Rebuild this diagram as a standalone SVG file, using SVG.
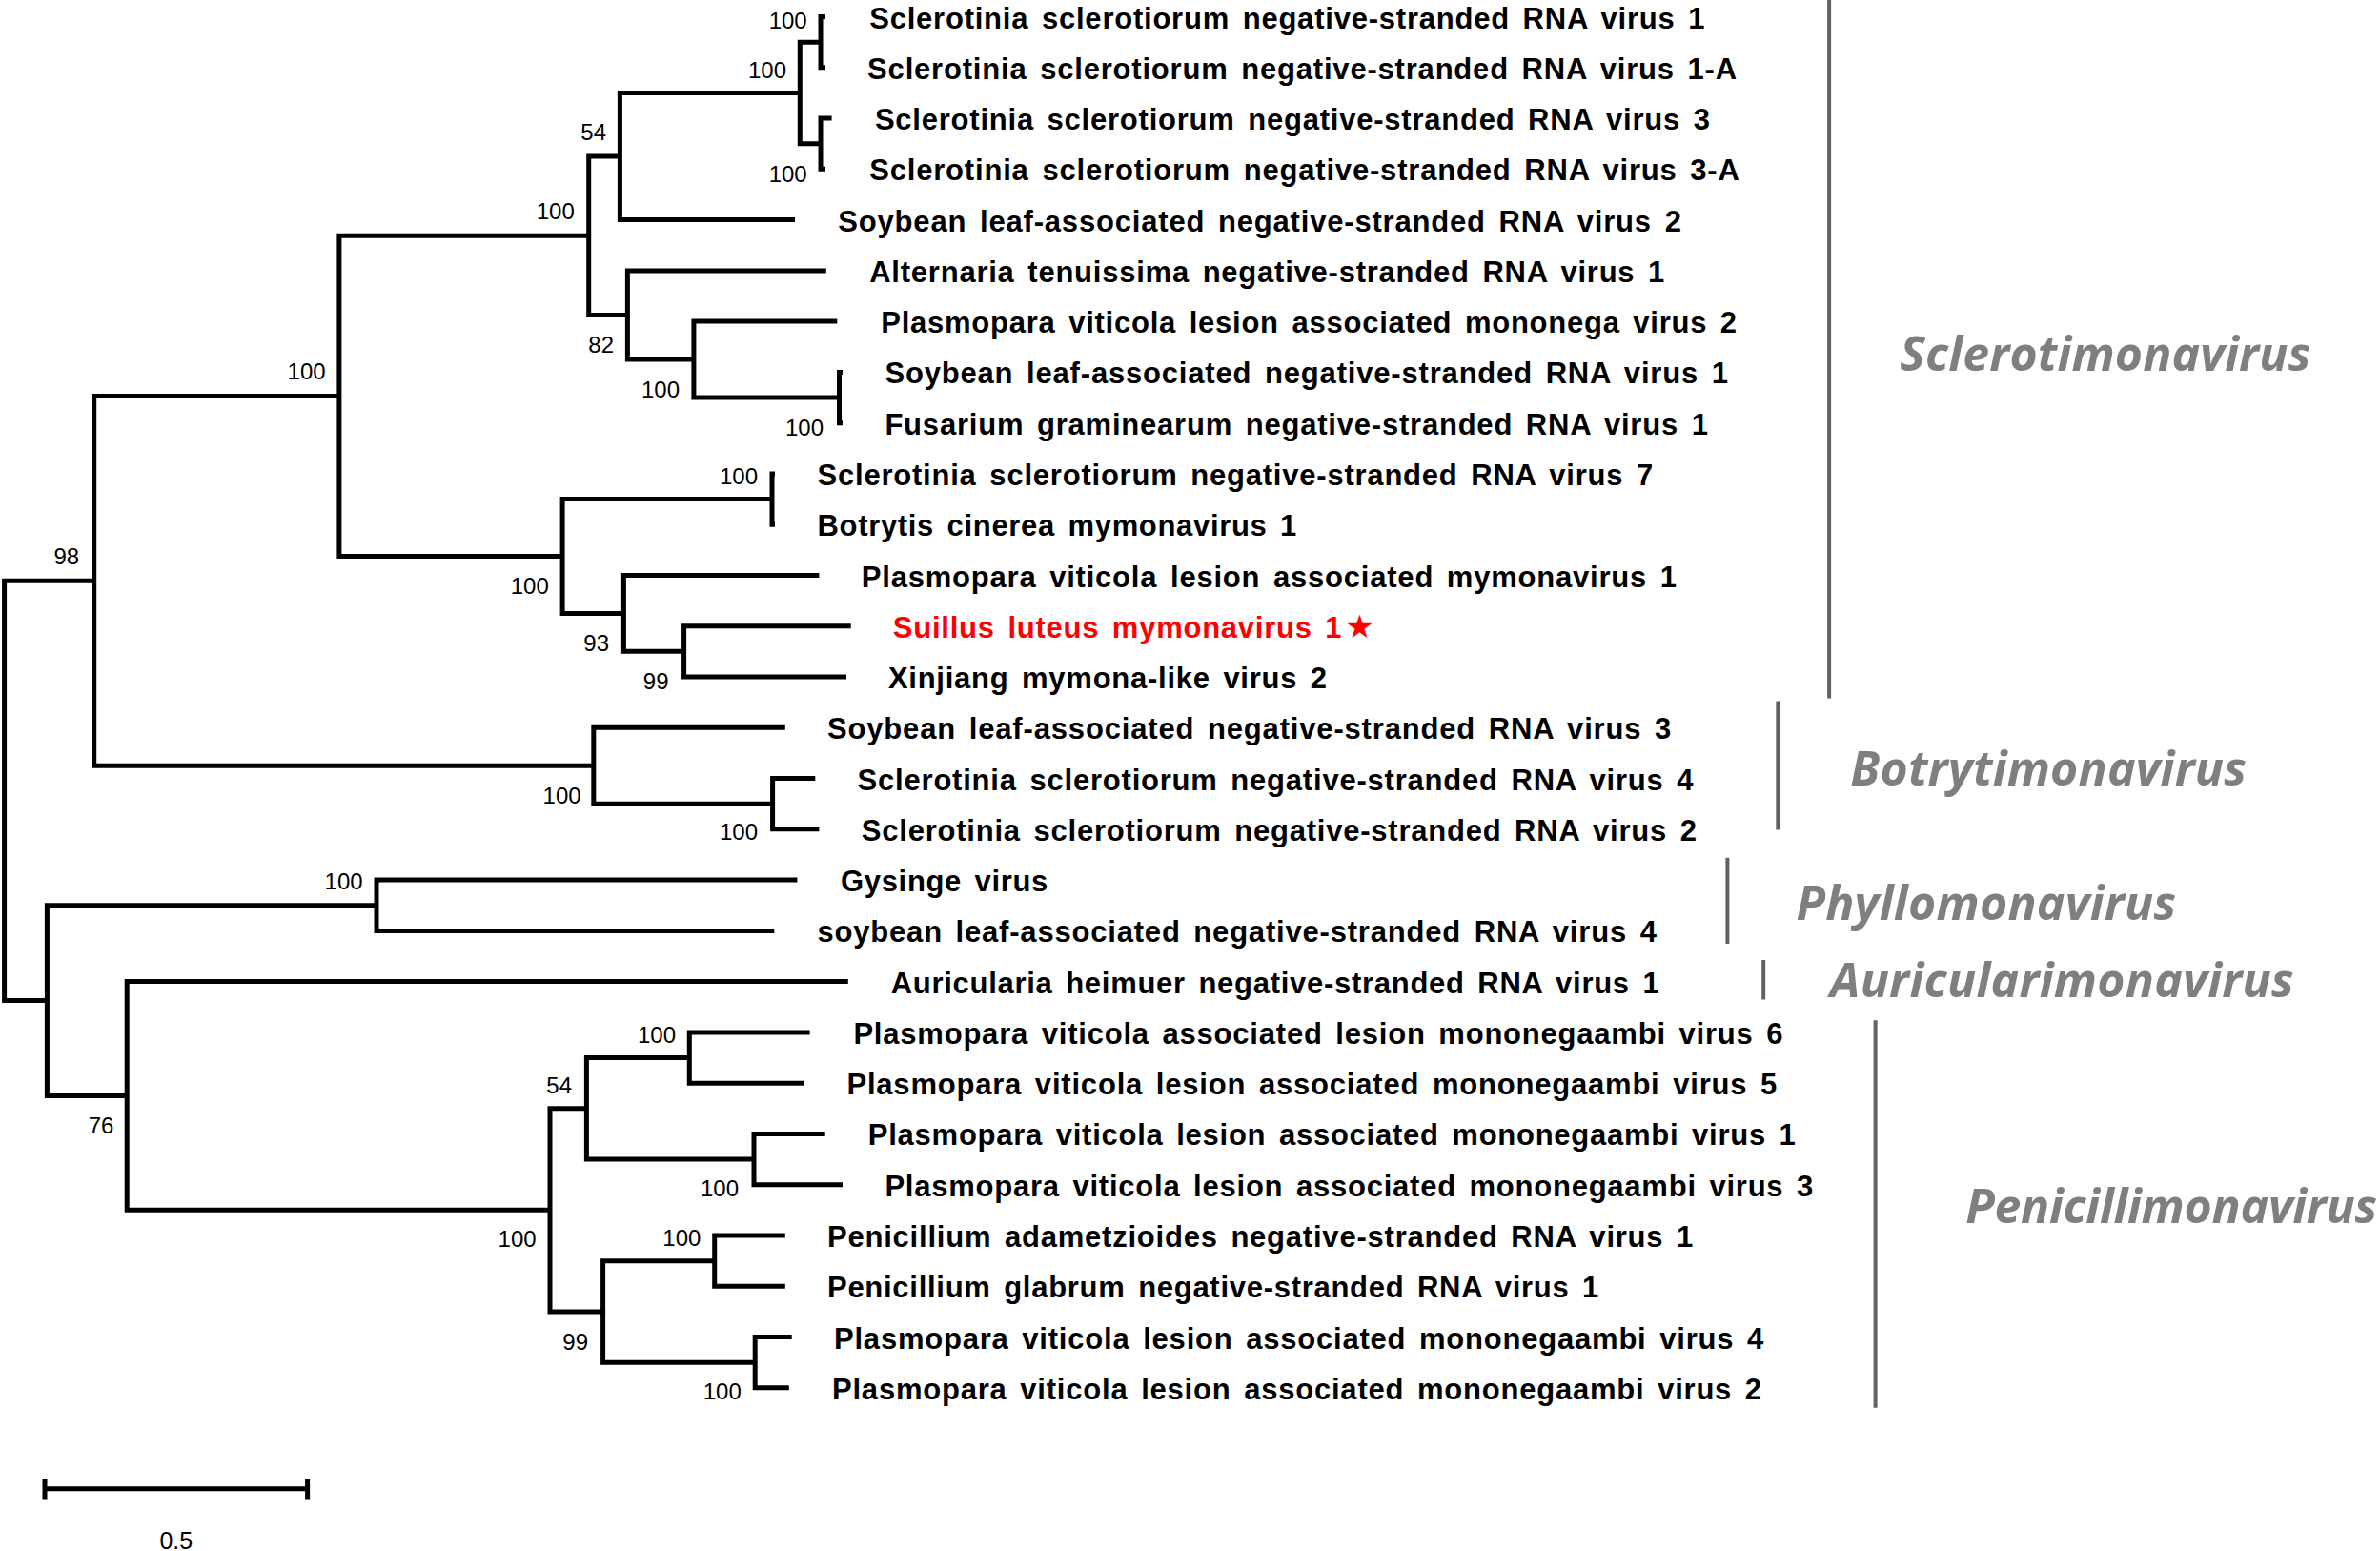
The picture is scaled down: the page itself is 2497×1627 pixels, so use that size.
<svg xmlns="http://www.w3.org/2000/svg" width="2497" height="1627" viewBox="0 0 2497 1627">
<style>
.br{fill:none;stroke:#000;stroke-width:5;stroke-linejoin:miter;stroke-linecap:butt}
.tx{font-family:"Liberation Sans",Arial,sans-serif;font-weight:bold;font-size:31px;letter-spacing:0.7px;word-spacing:4.3px;fill:#000}
.red{fill:#ff0000}
.bs{font-family:"Liberation Sans",Arial,sans-serif;font-size:24px;fill:#000;text-anchor:end}
.gn{font-family:"Open Sans","DejaVu Sans",sans-serif;font-weight:bold;font-style:italic;font-size:50px;fill:#7f7f7f}
.bar{stroke:#616161;stroke-width:4;fill:none}
</style>
<rect width="2497" height="1627" fill="#fff"/>
<g id="branches">
<path class="br" d="M866 17.5H861V70.8H866"/>
<path class="br" d="M872.6 124H861V177.3H866"/>
<path class="br" d="M861 44.15H839.3V150.65H861"/>
<path class="br" d="M839.3 97.4H650.4V230.6H834"/>
<path class="br" d="M884 390.4H880.5V443.7H884"/>
<path class="br" d="M878.3 337.1H727.9V417.05H880.5"/>
<path class="br" d="M866.8 283.9H658.4V377.1H727.9"/>
<path class="br" d="M650.4 164H617.7V330.5H658.4"/>
<path class="br" d="M813 496.9H810V550.2H813"/>
<path class="br" d="M892.7 656.7H717.6V710H888"/>
<path class="br" d="M859.4 603.5H654.4V683.35H717.6"/>
<path class="br" d="M810 523.55H590.1V643.4H654.4"/>
<path class="br" d="M617.7 247.25H355.9V583.5H590.1"/>
<path class="br" d="M855.3 816.6H810.6V869.8H859.4"/>
<path class="br" d="M823.8 763.3H622.8V843.2H810.6"/>
<path class="br" d="M355.9 415.4H98.7V803.25H622.8"/>
<path class="br" d="M836.4 923.1H395V976.4H812.3"/>
<path class="br" d="M849.6 1082.9H723.3V1136.2H843.9"/>
<path class="br" d="M865.7 1189.4H791V1242.7H884"/>
<path class="br" d="M723.3 1109.55H615.4V1216.05H791"/>
<path class="br" d="M823.8 1296H749.7V1349.3H823.8"/>
<path class="br" d="M830.7 1402.5H792.2V1455.8H827.8"/>
<path class="br" d="M749.7 1322.65H632.6V1429.15H792.2"/>
<path class="br" d="M615.4 1162.8H577V1375.9H632.6"/>
<path class="br" d="M889.8 1029.6H133.2V1269.35H577"/>
<path class="br" d="M395 949.75H49.4V1149.5H133.2"/>
<path class="br" d="M98.7 609.3H4.6V1049.6H49.4"/>
</g>
<g id="bootstrap">
<text class="bs" x="846.7" y="29.7">100</text>
<text class="bs" x="825" y="82.4">100</text>
<text class="bs" x="846.7" y="191.1">100</text>
<text class="bs" x="636" y="147.2">54</text>
<text class="bs" x="602.8" y="230.4">100</text>
<text class="bs" x="644" y="370">82</text>
<text class="bs" x="713" y="417.3">100</text>
<text class="bs" x="864" y="457">100</text>
<text class="bs" x="341.6" y="398">100</text>
<text class="bs" x="795" y="507.5">100</text>
<text class="bs" x="575.8" y="622.7">100</text>
<text class="bs" x="639" y="683">93</text>
<text class="bs" x="701.5" y="722.7">99</text>
<text class="bs" x="83.2" y="591.8">98</text>
<text class="bs" x="609.6" y="842.6">100</text>
<text class="bs" x="795" y="881.2">100</text>
<text class="bs" x="380.6" y="933.1">100</text>
<text class="bs" x="119.4" y="1188.7">76</text>
<text class="bs" x="709" y="1093.5">100</text>
<text class="bs" x="600" y="1146.7">54</text>
<text class="bs" x="775" y="1255.4">100</text>
<text class="bs" x="562.6" y="1307.7">100</text>
<text class="bs" x="735.4" y="1306.6">100</text>
<text class="bs" x="617" y="1415.7">99</text>
<text class="bs" x="777.8" y="1467.7">100</text>
</g>
<g id="taxa">
<g id="t0"><text class="tx" x="912.2" y="29.5" textLength="877" lengthAdjust="spacing">Sclerotinia sclerotiorum negative-stranded RNA virus 1</text></g>
<g id="t1"><text class="tx" x="910.1" y="82.8" textLength="912.7" lengthAdjust="spacing">Sclerotinia sclerotiorum negative-stranded RNA virus 1-A</text></g>
<g id="t2"><text class="tx" x="917.9" y="136" textLength="876.8" lengthAdjust="spacing">Sclerotinia sclerotiorum negative-stranded RNA virus 3</text></g>
<g id="t3"><text class="tx" x="912.2" y="189.3" textLength="913.4" lengthAdjust="spacing">Sclerotinia sclerotiorum negative-stranded RNA virus 3-A</text></g>
<g id="t4"><text class="tx" x="879.3" y="242.6" textLength="885.3" lengthAdjust="spacing">Soybean leaf-associated negative-stranded RNA virus 2</text></g>
<g id="t5"><text class="tx" x="912.2" y="295.9" textLength="834.8" lengthAdjust="spacing">Alternaria tenuissima negative-stranded RNA virus 1</text></g>
<g id="t6"><text class="tx" x="924.2" y="349.1" textLength="898.6" lengthAdjust="spacing">Plasmopara viticola lesion associated mononega virus 2</text></g>
<g id="t7"><text class="tx" x="928.4" y="402.4" textLength="885.3" lengthAdjust="spacing">Soybean leaf-associated negative-stranded RNA virus 1</text></g>
<g id="t8"><text class="tx" x="928.4" y="455.7" textLength="864.2" lengthAdjust="spacing">Fusarium graminearum negative-stranded RNA virus 1</text></g>
<g id="t9"><text class="tx" x="857.5" y="508.9" textLength="877.5" lengthAdjust="spacing">Sclerotinia sclerotiorum negative-stranded RNA virus 7</text></g>
<g id="t10"><text class="tx" x="857.5" y="562.2" textLength="503.5" lengthAdjust="spacing">Botrytis cinerea mymonavirus 1</text></g>
<g id="t11"><text class="tx" x="903.8" y="615.5" textLength="855.9" lengthAdjust="spacing">Plasmopara viticola lesion associated mymonavirus 1</text></g>
<g id="t12"><text class="tx red" x="936.8" y="668.7"><tspan textLength="471.5" lengthAdjust="spacing">Suillus luteus mymonavirus 1</tspan><tspan font-family="DejaVu Sans,sans-serif" font-size="34" letter-spacing="0" dx="3">★</tspan></text></g>
<g id="t13"><text class="tx" x="931.9" y="722" textLength="460.9" lengthAdjust="spacing">Xinjiang mymona-like virus 2</text></g>
<g id="t14"><text class="tx" x="868" y="775.3" textLength="886" lengthAdjust="spacing">Soybean leaf-associated negative-stranded RNA virus 3</text></g>
<g id="t15"><text class="tx" x="899.6" y="828.6" textLength="877.6" lengthAdjust="spacing">Sclerotinia sclerotiorum negative-stranded RNA virus 4</text></g>
<g id="t16"><text class="tx" x="903.8" y="881.8" textLength="876.9" lengthAdjust="spacing">Sclerotinia sclerotiorum negative-stranded RNA virus 2</text></g>
<g id="t17"><text class="tx" x="882" y="935.1" textLength="218" lengthAdjust="spacing">Gysinge virus</text></g>
<g id="t18"><text class="tx" x="857.5" y="988.4" textLength="881.1" lengthAdjust="spacing">soybean leaf-associated negative-stranded RNA virus 4</text></g>
<g id="t19"><text class="tx" x="934.7" y="1041.6" textLength="806.7" lengthAdjust="spacing">Auricularia heimuer negative-stranded RNA virus 1</text></g>
<g id="t20"><text class="tx" x="895.4" y="1094.9" textLength="975.8" lengthAdjust="spacing">Plasmopara viticola associated lesion mononegaambi virus 6</text></g>
<g id="t21"><text class="tx" x="888.4" y="1148.2" textLength="976.6" lengthAdjust="spacing">Plasmopara viticola lesion associated mononegaambi virus 5</text></g>
<g id="t22"><text class="tx" x="910.8" y="1201.4" textLength="973.7" lengthAdjust="spacing">Plasmopara viticola lesion associated mononegaambi virus 1</text></g>
<g id="t23"><text class="tx" x="928.4" y="1254.7" textLength="974.6" lengthAdjust="spacing">Plasmopara viticola lesion associated mononegaambi virus 3</text></g>
<g id="t24"><text class="tx" x="868" y="1308" textLength="909" lengthAdjust="spacing">Penicillium adametzioides negative-stranded RNA virus 1</text></g>
<g id="t25"><text class="tx" x="868" y="1361.3" textLength="810" lengthAdjust="spacing">Penicillium glabrum negative-stranded RNA virus 1</text></g>
<g id="t26"><text class="tx" x="875" y="1414.5" textLength="975.9" lengthAdjust="spacing">Plasmopara viticola lesion associated mononegaambi virus 4</text></g>
<g id="t27"><text class="tx" x="873" y="1467.8" textLength="975.8" lengthAdjust="spacing">Plasmopara viticola lesion associated mononegaambi virus 2</text></g>
</g>
<g id="genus-sclerotimonavirus"><line class="bar" x1="1919.1" y1="0" x2="1919.1" y2="732.5"/><text class="gn" x="1993.3" y="388.8" textLength="431" lengthAdjust="spacing">Sclerotimonavirus</text></g>
<g id="genus-botrytimonavirus"><line class="bar" x1="1865.3" y1="735.6" x2="1865.3" y2="870.5"/><text class="gn" x="1941.3" y="824" textLength="415.6" lengthAdjust="spacing">Botrytimonavirus</text></g>
<g id="genus-phyllomonavirus"><line class="bar" x1="1812.4" y1="899.8" x2="1812.4" y2="990"/><text class="gn" x="1884.4" y="964.5" textLength="398.7" lengthAdjust="spacing">Phyllomonavirus</text></g>
<g id="genus-auricularimonavirus"><line class="bar" x1="1850.2" y1="1007" x2="1850.2" y2="1048.5"/><text class="gn" x="1920" y="1046.2" textLength="486.7" lengthAdjust="spacing">Auricularimonavirus</text></g>
<g id="genus-penicillimonavirus"><line class="bar" x1="1967.6" y1="1070.3" x2="1967.6" y2="1476.7"/><text class="gn" x="2062.2" y="1282.7" textLength="432" lengthAdjust="spacing">Penicillimonavirus</text></g>
<g id="scale-bar">
<path class="br" d="M47 1561.8H322.6M47 1551V1572.6M322.6 1551V1572.6"/>
<text x="184.8" y="1625" font-family="Liberation Sans,Arial,sans-serif" font-size="25" text-anchor="middle">0.5</text>
</g>
</svg>
